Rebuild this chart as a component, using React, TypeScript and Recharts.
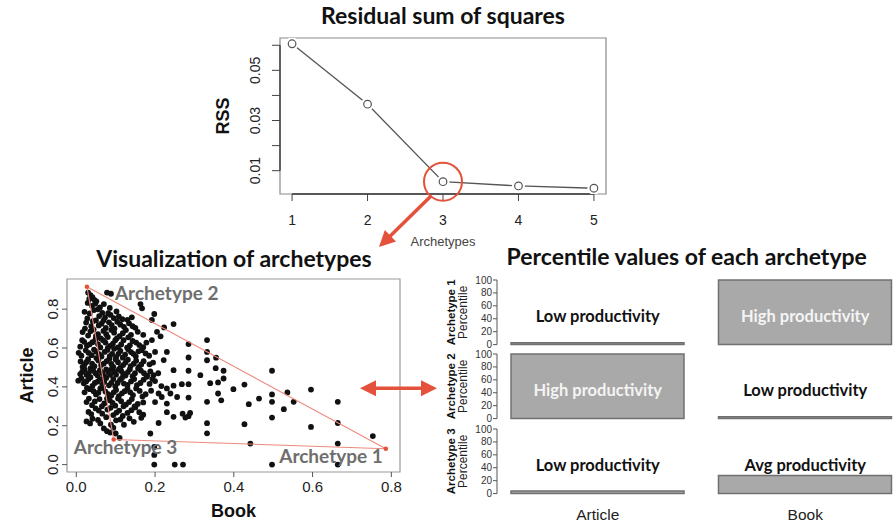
import React from 'react';
import {
  LineChart, Line, XAxis, YAxis, ReferenceArea, ReferenceDot, ReferenceLine, Label,
  ScatterChart, Scatter, BarChart, Bar,
} from 'recharts';

// ---------------- data ----------------
const archetypeCounts = [1, 2, 3, 4, 5];
const rssValues = [0.0606, 0.0365, 0.0056, 0.0039, 0.003];
const rssTicks = [0.01, 0.02, 0.03, 0.04, 0.05, 0.06];
const rssTickLabels = ['0.01', '', '0.03', '', '0.05', ''];
const chosenK = 3;

const archetypeNames = ['Archetype 1', 'Archetype 2', 'Archetype 3'];
const archetypeBook = [0.786, 0.027, 0.095];
const archetypeArticle = [0.082, 0.915, 0.129];

const scatterTicks = [0, 0.2, 0.4, 0.6, 0.8];

// [book, article]
const scatterPoints: [number, number][] = [
  [0.030, 0.885], [0.036, 0.872], [0.041, 0.862], [0.046, 0.848], [0.078, 0.885], [0.088, 0.879],
  [0.029, 0.832], [0.040, 0.817], [0.051, 0.840], [0.060, 0.809], [0.070, 0.826], [0.085, 0.806], [0.163, 0.826], [0.167, 0.804],
  [0.021, 0.786], [0.034, 0.778], [0.045, 0.795], [0.058, 0.764], [0.081, 0.779], [0.095, 0.754], [0.108, 0.762], [0.130, 0.745], [0.141, 0.758], [0.198, 0.775], [0.192, 0.744],
  [0.025, 0.731], [0.038, 0.712], [0.050, 0.742], [0.064, 0.725], [0.075, 0.703], [0.090, 0.718], [0.104, 0.735], [0.121, 0.709], [0.134, 0.727], [0.150, 0.704], [0.223, 0.706], [0.247, 0.723],
  [0.016, 0.682], [0.030, 0.664], [0.044, 0.695], [0.055, 0.671], [0.069, 0.688], [0.080, 0.656], [0.096, 0.679], [0.110, 0.661], [0.126, 0.692], [0.139, 0.668], [0.156, 0.683], [0.205, 0.683], [0.214, 0.660],
  [0.010, 0.607], [0.020, 0.632], [0.034, 0.619], [0.049, 0.645], [0.061, 0.603], [0.074, 0.628], [0.086, 0.611], [0.099, 0.640], [0.114, 0.618], [0.129, 0.602], [0.143, 0.636], [0.160, 0.615], [0.178, 0.628], [0.192, 0.641], [0.285, 0.620], [0.332, 0.641],
  [0.006, 0.575], [0.024, 0.588], [0.039, 0.563], [0.051, 0.581], [0.064, 0.556], [0.079, 0.590], [0.091, 0.570], [0.101, 0.553], [0.112, 0.585], [0.124, 0.566], [0.139, 0.579], [0.151, 0.557], [0.166, 0.589], [0.176, 0.572], [0.200, 0.580], [0.230, 0.580], [0.332, 0.580], [0.355, 0.550], [0.285, 0.551],
  [0.011, 0.531], [0.021, 0.515], [0.030, 0.542], [0.046, 0.506], [0.056, 0.536], [0.070, 0.520], [0.084, 0.545], [0.094, 0.503], [0.106, 0.527], [0.119, 0.512], [0.131, 0.540], [0.146, 0.519], [0.159, 0.503], [0.171, 0.532], [0.186, 0.516], [0.222, 0.538], [0.332, 0.537],
  [0.015, 0.478], [0.026, 0.462], [0.036, 0.495], [0.049, 0.470], [0.060, 0.486], [0.071, 0.455], [0.081, 0.476], [0.090, 0.493], [0.101, 0.463], [0.114, 0.482], [0.125, 0.458], [0.136, 0.491], [0.149, 0.470], [0.164, 0.484], [0.180, 0.458], [0.196, 0.460], [0.247, 0.486], [0.285, 0.483], [0.315, 0.460], [0.354, 0.496], [0.374, 0.483], [0.497, 0.483],
  [0.005, 0.432], [0.019, 0.418], [0.031, 0.441], [0.041, 0.405], [0.054, 0.427], [0.066, 0.412], [0.076, 0.446], [0.089, 0.421], [0.099, 0.403], [0.111, 0.436], [0.121, 0.417], [0.139, 0.428], [0.154, 0.409], [0.171, 0.437], [0.179, 0.452], [0.186, 0.415], [0.200, 0.430], [0.216, 0.404], [0.268, 0.414], [0.285, 0.414], [0.247, 0.406], [0.340, 0.419], [0.360, 0.423], [0.374, 0.443], [0.399, 0.388], [0.427, 0.412],
  [0.021, 0.372], [0.034, 0.388], [0.050, 0.361], [0.061, 0.392], [0.074, 0.376], [0.089, 0.355], [0.101, 0.384], [0.116, 0.367], [0.130, 0.391], [0.144, 0.358], [0.161, 0.379], [0.176, 0.362], [0.209, 0.366], [0.230, 0.392], [0.239, 0.366], [0.256, 0.348], [0.217, 0.348], [0.285, 0.345], [0.360, 0.366], [0.368, 0.331], [0.464, 0.340], [0.497, 0.361], [0.536, 0.371], [0.596, 0.386],
  [0.026, 0.322], [0.040, 0.306], [0.059, 0.337], [0.071, 0.315], [0.085, 0.331], [0.099, 0.303], [0.114, 0.326], [0.126, 0.309], [0.141, 0.337], [0.156, 0.312], [0.200, 0.322], [0.230, 0.314], [0.332, 0.323], [0.438, 0.311], [0.497, 0.323], [0.552, 0.323], [0.664, 0.323],
  [0.031, 0.271], [0.049, 0.289], [0.066, 0.262], [0.079, 0.283], [0.094, 0.255], [0.109, 0.278], [0.130, 0.266], [0.150, 0.294], [0.170, 0.257], [0.230, 0.270], [0.270, 0.262], [0.527, 0.285],
  [0.026, 0.222], [0.041, 0.236], [0.061, 0.212], [0.076, 0.244], [0.101, 0.228], [0.121, 0.205], [0.146, 0.220], [0.165, 0.241], [0.209, 0.214], [0.247, 0.246], [0.277, 0.242], [0.285, 0.249], [0.289, 0.266], [0.332, 0.213], [0.427, 0.208], [0.497, 0.242], [0.596, 0.194], [0.664, 0.214],
  [0.070, 0.186], [0.086, 0.165], [0.100, 0.160], [0.188, 0.160], [0.332, 0.161], [0.753, 0.147],
  [0.110, 0.138], [0.442, 0.108], [0.664, 0.108],
  [0.198, 0.091], [0.198, 0.050], [0.198, 0.0], [0.250, 0.0], [0.271, 0.0], [0.497, 0.0], [0.664, 0.0],
  // denser core of the cloud
  [0.033, 0.852], [0.048, 0.828], [0.055, 0.799], [0.066, 0.781], [0.073, 0.757], [0.087, 0.770], [0.102, 0.788], [0.117, 0.748],
  [0.028, 0.752], [0.042, 0.738], [0.057, 0.716], [0.069, 0.741], [0.083, 0.732], [0.097, 0.700], [0.112, 0.720], [0.143, 0.712],
  [0.022, 0.700], [0.036, 0.686], [0.050, 0.662], [0.062, 0.650], [0.076, 0.671], [0.089, 0.693], [0.103, 0.650], [0.118, 0.676], [0.132, 0.655], [0.170, 0.668],
  [0.015, 0.640], [0.027, 0.612], [0.041, 0.630], [0.055, 0.620], [0.068, 0.640], [0.080, 0.600], [0.093, 0.622], [0.106, 0.603], [0.120, 0.640], [0.136, 0.614], [0.152, 0.628], [0.170, 0.604],
  [0.013, 0.560], [0.031, 0.575], [0.045, 0.592], [0.058, 0.568], [0.072, 0.580], [0.085, 0.558], [0.096, 0.596], [0.107, 0.570], [0.118, 0.550], [0.132, 0.592], [0.145, 0.570], [0.158, 0.583], [0.185, 0.560],
  [0.016, 0.503], [0.026, 0.528], [0.040, 0.520], [0.051, 0.548], [0.063, 0.512], [0.077, 0.532], [0.089, 0.518], [0.100, 0.541], [0.112, 0.500], [0.125, 0.525], [0.138, 0.507], [0.152, 0.535], [0.165, 0.515], [0.195, 0.525],
  [0.010, 0.466], [0.021, 0.490], [0.031, 0.470], [0.043, 0.483], [0.054, 0.458], [0.066, 0.472], [0.076, 0.490], [0.086, 0.462], [0.096, 0.478], [0.108, 0.490], [0.119, 0.468], [0.131, 0.476], [0.143, 0.455], [0.157, 0.495], [0.172, 0.470], [0.188, 0.480], [0.208, 0.470],
  [0.013, 0.443], [0.025, 0.428], [0.036, 0.450], [0.047, 0.420], [0.060, 0.440], [0.071, 0.425], [0.083, 0.408], [0.094, 0.440], [0.105, 0.420], [0.116, 0.446], [0.130, 0.410], [0.147, 0.440], [0.163, 0.420], [0.193, 0.440],
  [0.027, 0.395], [0.044, 0.378], [0.056, 0.370], [0.068, 0.395], [0.081, 0.362], [0.095, 0.372], [0.108, 0.352], [0.123, 0.378], [0.137, 0.372], [0.152, 0.392], [0.168, 0.350], [0.190, 0.380],
  [0.032, 0.340], [0.047, 0.325], [0.065, 0.300], [0.078, 0.340], [0.092, 0.318], [0.106, 0.340], [0.120, 0.300], [0.134, 0.322], [0.148, 0.300], [0.170, 0.320],
  [0.038, 0.260], [0.057, 0.278], [0.087, 0.292], [0.102, 0.268], [0.118, 0.250], [0.140, 0.280], [0.160, 0.270],
  [0.035, 0.212], [0.055, 0.230], [0.088, 0.205], [0.112, 0.232], [0.135, 0.238],
  [0.078, 0.172], [0.094, 0.190],
];

const percentileCategories = ['Article', 'Book'];
const articlePercentiles = [3, 100, 4];
const bookPercentiles = [100, 3, 28];
const articleLevels = ['Low productivity', 'High productivity', 'Low productivity'];
const bookLevels = ['High productivity', 'Low productivity', 'Avg productivity'];
const percentileTicks = [0, 20, 40, 60, 80, 100];
const levelLabelAt = 44;

// ---------------- styles ----------------
const TITLE_FONT = 'Lato, "Open Sans", sans-serif';
const R_FONT = '"Liberation Sans", Arial, Helvetica, sans-serif';
const RED = '#e5523b';
const TRI = '#ee8a7c';

const labelOffsets: Record<string, { dx: number; dy: number; anchor: 'start' | 'end' }> = {
  'Archetype 1': { dx: -3, dy: 14, anchor: 'end' },
  'Archetype 2': { dx: 28, dy: 13, anchor: 'start' },
  'Archetype 3': { dx: -40, dy: 14, anchor: 'start' },
};

// ---------------- derived tables ----------------
const rssData = archetypeCounts.map((k, i) => ({ k, rss: rssValues[i] }));
const RSS_DOMAIN: [number, number] = [0.0007, 0.0629];
const K_DOMAIN: [number, number] = [0.84, 5.16];
const pointData = scatterPoints.map(([book, article]) => ({ book, article }));
const archetypeData = archetypeNames.map((name, i) => ({ name, book: archetypeBook[i], article: archetypeArticle[i] }));
const triangleData = [archetypeData[1], archetypeData[0], archetypeData[2], archetypeData[1]];
const BOOK_DOMAIN: [number, number] = [-0.0236, 0.822];
const ARTICLE_DOMAIN: [number, number] = [-0.038, 0.955];

// ---------------- small renderers ----------------
const RssDot = (props: any) => {
  const { cx, cy, index } = props;
  return (
    <g key={`d${index}`}>
      <circle cx={cx} cy={cy} r={6.5} fill="#fff" />
      <circle cx={cx} cy={cy} r={3.8} fill="#fff" stroke="#555" strokeWidth={1.2} />
    </g>
  );
};

const RssTick = (props: any) => {
  const { x, y, payload } = props;
  const label = rssTickLabels[rssTicks.indexOf(payload.value)];
  if (!label) return <g />;
  const tx = x - 15;
  return (
    <text x={tx} y={y} transform={`rotate(-90 ${tx} ${y})`} textAnchor="middle" dominantBaseline="central"
      fontSize={14} fill="#222" fontFamily={R_FONT}>{label}</text>
  );
};

const ScatterYTick = (props: any) => {
  const { x, y, payload } = props;
  const tx = x - 7;
  return (
    <text x={tx} y={y} transform={`rotate(-90 ${tx} ${y})`} textAnchor="middle" dominantBaseline="central"
      fontSize={15} fill="#222" fontFamily={R_FONT}>{Number(payload.value).toFixed(1)}</text>
  );
};

const rotatedText = (x: number, y: number, text: string, size: number, weight: number, fill = '#111') => (
  <text x={x} y={y} transform={`rotate(-90 ${x} ${y})`} textAnchor="middle" dominantBaseline="central"
    fontSize={size} fontWeight={weight} fill={fill} fontFamily={R_FONT}>{text}</text>
);

const BlackDot = (props: any) => <circle cx={props.cx} cy={props.cy} r={2.9} fill="#111" />;
const NoShape = () => <g />;
const ArchetypeMark = (props: any) => {
  const { cx, cy, payload } = props;
  const o = labelOffsets[payload.name];
  return (
    <g>
      <circle cx={cx} cy={cy} r={2.3} fill={RED} />
      <text x={cx + o.dx} y={cy + o.dy} textAnchor={o.anchor} fontSize={19} fontWeight={700}
        fill="#6e6e6e" fontFamily={TITLE_FONT}>{payload.name}</text>
    </g>
  );
};

const arrowHead = (x1: number, y1: number, x2: number, y2: number, len: number, half: number) => {
  const dx = x2 - x1, dy = y2 - y1;
  const d = Math.hypot(dx, dy);
  const ux = dx / d, uy = dy / d;
  const bx = x2 - ux * len, by = y2 - uy * len;
  const px = -uy * half, py = ux * half;
  return `${x2},${y2} ${bx + px},${by + py} ${bx - px},${by - py}`;
};

const Arrow = ({ x1, y1, x2, y2, both = false }: any) => {
  const len = 16, half = 8;
  const d = Math.hypot(x2 - x1, y2 - y1);
  const ux = (x2 - x1) / d, uy = (y2 - y1) / d;
  const sx = both ? x1 + ux * (len - 2) : x1;
  const sy = both ? y1 + uy * (len - 2) : y1;
  return (
    <g>
      <line x1={sx} y1={sy} x2={x2 - ux * (len - 2)} y2={y2 - uy * (len - 2)} stroke={RED} strokeWidth={3.5} />
      <polygon points={arrowHead(x1, y1, x2, y2, len, half)} fill={RED} />
      {both && <polygon points={arrowHead(x2, y2, x1, y1, len, half)} fill={RED} />}
    </g>
  );
};

// ---------------- percentile panel ----------------
const PANEL_PLOT_H = 64.6;
const PercentilePanel = ({ idx, top, showCategories }: { idx: number; top: number; showCategories: boolean }) => {
  const data = percentileCategories.map((category, c) => ({
    category,
    value: c === 0 ? articlePercentiles[idx] : bookPercentiles[idx],
    level: c === 0 ? articleLevels[idx] : bookLevels[idx],
  }));
  const axisH = showCategories ? 30 : 0;
  const bottom = showCategories ? 0 : 6;
  const height = 8 + PANEL_PLOT_H + axisH + bottom;
  return (
    <div style={{ position: 'absolute', left: 420, top, width: 473, height, overflow: 'hidden' }}>
      <BarChart width={492} height={height} data={data} barSize={173}
        margin={{ top: 8, right: 0, bottom, left: 0 }}>
        <XAxis dataKey="category" hide={!showCategories} height={axisH} axisLine={false} tickLine={false}
          tickMargin={9} padding={{ left: -3, right: 3 }}
          tick={{ fontSize: 15.5, fill: '#222', fontFamily: R_FONT }} />
        <YAxis type="number" domain={[0, 100]} ticks={percentileTicks} width={77} tickSize={4} tickMargin={1}
          axisLine={{ stroke: '#555' }} tickLine={{ stroke: '#555' }} interval={0}
          tick={{ fontSize: 10, fill: '#333', fontFamily: R_FONT }}>
          <Label content={(p: any) => {
            const vb = p.viewBox;
            const cy = vb.y + vb.height / 2;
            return (
              <g>
                {rotatedText(vb.x + 31, cy, archetypeNames[idx], 11.5, 700)}
                {rotatedText(vb.x + 43, cy, 'Percentile', 12, 400, '#222')}
              </g>
            );
          }} />
        </YAxis>
        <Bar dataKey="value" fill="#a9a9a9" stroke="#707070" strokeWidth={1.5} isAnimationActive={false} />
        {data.map((d) => (
          <ReferenceDot key={d.category} x={d.category} y={levelLabelAt} r={0} fill="none" stroke="none" ifOverflow="visible"
            label={{
              value: d.level, position: 'center', fontSize: 16.5, fontWeight: 700, fontFamily: TITLE_FONT,
              fill: d.value > levelLabelAt ? '#f4f4f4' : '#111',
            }} />
        ))}
      </BarChart>
    </div>
  );
};

export default function App() {
  return (
    <div style={{ position: 'absolute', left: 0, top: 0, width: 893, height: 522, overflow: 'hidden', background: '#fff' }}>
      {/* Residual sum of squares */}
      <div style={{ position: 'absolute', left: 0, top: 0 }}>
        <LineChart width={893} height={260} data={rssData} margin={{ top: 38, right: 287, bottom: 36, left: 220 }}>
          <XAxis type="number" dataKey="k" domain={K_DOMAIN} ticks={archetypeCounts} allowDataOverflow height={30}
            tickSize={7} tickMargin={14} axisLine={false} tickLine={{ stroke: '#444' }} interval={0}
            tick={{ fontSize: 14, fill: '#222', fontFamily: R_FONT }}>
            <Label content={(p: any) => {
              const vb = p.viewBox;
              return <text x={vb.x + vb.width / 2} y={vb.y + 52} textAnchor="middle" fontSize={13}
                fill="#444" fontFamily={R_FONT}>Archetypes</text>;
            }} />
          </XAxis>
          <YAxis type="number" domain={RSS_DOMAIN} ticks={rssTicks} allowDataOverflow width={60} tickSize={8}
            axisLine={false} tickLine={{ stroke: '#444' }} tick={RssTick} interval={0}>
            <Label content={(p: any) => {
              const vb = p.viewBox;
              return rotatedText(vb.x + 3, vb.y + vb.height / 2, 'RSS', 18, 700);
            }} />
          </YAxis>
          <ReferenceArea x1={K_DOMAIN[0]} x2={K_DOMAIN[1]} y1={RSS_DOMAIN[0]} y2={RSS_DOMAIN[1]}
            fill="none" fillOpacity={0} stroke="#8a8a8a" strokeWidth={1.2} ifOverflow="visible" />
          <ReferenceLine segment={[{ x: archetypeCounts[0], y: RSS_DOMAIN[0] }, { x: archetypeCounts[4], y: RSS_DOMAIN[0] }]}
            stroke="#333" strokeWidth={1.3} ifOverflow="visible" />
          <ReferenceLine segment={[{ x: K_DOMAIN[0], y: rssTicks[0] }, { x: K_DOMAIN[0], y: rssTicks[5] }]}
            stroke="#333" strokeWidth={1.3} ifOverflow="visible" />
          <Line type="linear" dataKey="rss" stroke="#555" strokeWidth={1.3} dot={RssDot} activeDot={false}
            isAnimationActive={false} />
          <ReferenceDot x={chosenK} y={rssValues[chosenK - 1]} r={19} fill="none" stroke={RED} strokeWidth={2}
            ifOverflow="visible" />
        </LineChart>
      </div>

      {/* Visualization of archetypes */}
      <div style={{ position: 'absolute', left: 0, top: 240 }}>
        <ScatterChart width={420} height={282} margin={{ top: 39, right: 20, bottom: 20, left: 27 }}>
          <XAxis type="number" dataKey="book" domain={BOOK_DOMAIN} ticks={scatterTicks} allowDataOverflow height={30}
            tickSize={5} tickMargin={4} axisLine={false} tickLine={{ stroke: '#555' }} interval={0}
            tickFormatter={(v: number) => v.toFixed(1)}
            tick={{ fontSize: 15, fill: '#222', fontFamily: R_FONT }}>
            <Label content={(p: any) => {
              const vb = p.viewBox;
              return <text x={vb.x + vb.width / 2} y={vb.y + 45} textAnchor="middle" fontSize={18} fontWeight={700}
                fill="#111" fontFamily={R_FONT}>Book</text>;
            }} />
          </XAxis>
          <YAxis type="number" dataKey="article" domain={ARTICLE_DOMAIN} ticks={scatterTicks} allowDataOverflow width={40}
            tickSize={5} axisLine={false} tickLine={{ stroke: '#555' }} tick={ScatterYTick} interval={0}>
            <Label content={(p: any) => {
              const vb = p.viewBox;
              return rotatedText(vb.x, vb.y + vb.height / 2, 'Article', 18, 700);
            }} />
          </YAxis>
          <ReferenceArea x1={BOOK_DOMAIN[0]} x2={BOOK_DOMAIN[1]} y1={ARTICLE_DOMAIN[0]} y2={ARTICLE_DOMAIN[1]}
            fill="none" fillOpacity={0} stroke="#9a9a9a" strokeWidth={1.2} ifOverflow="visible" />
          <Scatter data={pointData} shape={BlackDot} isAnimationActive={false} />
          <Scatter data={triangleData} shape={NoShape} line={{ stroke: TRI, strokeWidth: 1.1 }} lineType="joint"
            isAnimationActive={false} />
          <Scatter data={archetypeData} shape={ArchetypeMark} isAnimationActive={false} />
        </ScatterChart>
      </div>

      {/* Percentile panels */}
      <PercentilePanel idx={0} top={272} showCategories={false} />
      <PercentilePanel idx={1} top={346.3} showCategories={false} />
      <PercentilePanel idx={2} top={420.7} showCategories={true} />

      {/* titles and connecting arrows */}
      <svg width={893} height={522} style={{ position: 'absolute', left: 0, top: 0, pointerEvents: 'none' }}>
        <g fontFamily={TITLE_FONT} fontWeight={700} fontSize={23} fill="#111" textAnchor="middle">
          <text x={443} y={23.5}>Residual sum of squares</text>
          <text x={234} y={266.5}>Visualization of archetypes</text>
          <text x={686.7} y={265}>Percentile values of each archetype</text>
        </g>
        <Arrow x1={431.5} y1={195.5} x2={379} y2={247} />
        <Arrow x1={360} y1={388.3} x2={437} y2={388.3} both />
      </svg>
    </div>
  );
}
